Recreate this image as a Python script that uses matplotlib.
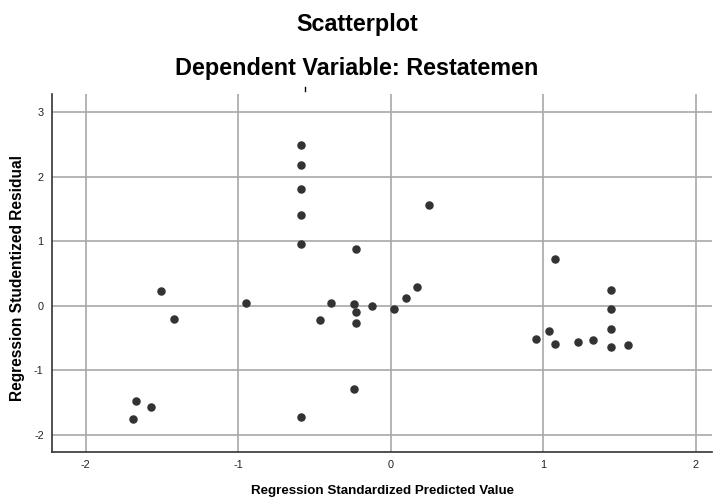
import matplotlib

matplotlib.use("Agg")

import matplotlib.pyplot as plt
from matplotlib.lines import Line2D

plt.rcParams['font.family'] = ['Liberation Sans', 'DejaVu Sans']
plt.rcParams['axes.unicode_minus'] = False

# standardized predicted value / studentized residual
pred = [-1.508, -1.42, -1.666, -1.574, -1.687,
        -0.588, -0.588, -0.588, -0.588, -0.588,
        0.251, -0.225, 0.175, 0.100, -0.946,
        -0.393, -0.240, -0.12, 0.02, -0.225,
        -0.466, -0.225, -0.240, -0.588,
        1.078, 1.443, 1.443, 1.443, 1.443,
        1.04, 0.951, 1.078, 1.226, 1.325, 1.557]
resid = [0.226, -0.212, -1.479, -1.577, -1.752,
         2.485, 2.175, 1.808, 1.41, 0.961,
         1.56, 0.878, 0.289, 0.118, 0.04,
         0.036, 0.02, -0.011, -0.047, -0.104,
         -0.228, -0.27, -1.293, -1.727,
         0.718, 0.248, -0.047, -0.367, -0.646,
         -0.398, -0.522, -0.6, -0.564, -0.528, -0.615]

x_ticks = [-2, -1, 0, 1, 2]
y_ticks = [-2, -1, 0, 1, 2, 3]

fig = plt.figure(figsize=(7.14, 5), dpi=100)
ax = fig.add_axes([0.0728, 0.096, 0.925, 0.716])

ax.scatter(pred, resid, s=26, color='#333333', zorder=3)

ax.set_xlim(-2.22, 2.11)
ax.set_ylim(-2.27, 3.28)
ax.set_xticks(x_ticks)
ax.set_yticks(y_ticks)
ax.grid(True, color='#a8a8a8', linewidth=1.2)
ax.set_axisbelow(True)

for side in ['top', 'right']:
    ax.spines[side].set_visible(False)
for side in ['left', 'bottom']:
    ax.spines[side].set_color('#333333')
    ax.spines[side].set_linewidth(1.2)

ax.tick_params(length=0, labelsize=7.8, colors='#222222', pad=6)

fig.text(0.536, 0.018, "Regression Standardized Predicted Value",
         ha='center', va='center', fontsize=9.6, fontweight='bold')
fig.text(0.025, 0.444, "Regression Studentized Residual", ha='center',
         va='center', rotation=90, fontsize=11.2, fontweight='bold')

fig.text(0.50, 0.952, "Scatterplot", ha='center', va='center',
         fontsize=16.8, fontweight='bold')
fig.text(0.5, 0.864, "Dependent Variable: Restatemen", ha='center',
         va='center', fontsize=16.8, fontweight='bold')

# small stray mark above the plot
fig.add_artist(Line2D([0.4272, 0.4272], [0.818, 0.826], color='black',
                      linewidth=1, transform=fig.transFigure))

fig.savefig("out.png", dpi=100)
plt.close()
